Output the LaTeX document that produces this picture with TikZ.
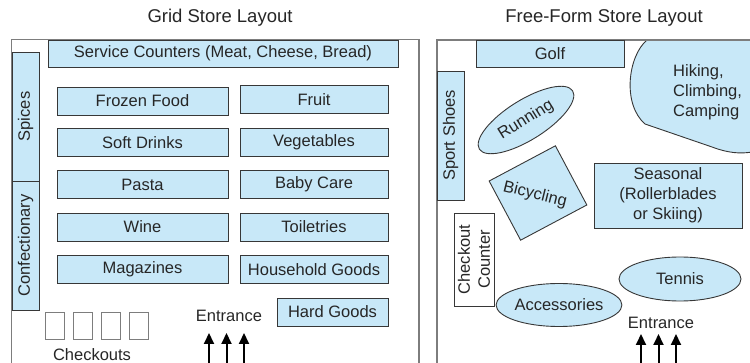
\documentclass[tikz,border=0pt]{standalone}
\usepackage{fontspec}
\setmainfont{Liberation Sans}
\usetikzlibrary{shapes.geometric,arrows.meta}
\definecolor{aisle}{RGB}{200,232,248}
\definecolor{edgec}{RGB}{55,55,55}
\definecolor{wallc}{RGB}{125,125,125}
\begin{document}
\begin{tikzpicture}[x=1pt,y=-1pt,
  font=\fontsize{16.5}{20}\selectfont,
  dept/.style={draw=edgec, fill=aisle, line width=0.9pt, inner sep=0pt, text=black!85},
  vdept/.style={dept, rotate=90},
  plain/.style={draw=edgec, fill=white, line width=0.9pt, inner sep=0pt},
  oval/.style={dept, ellipse},
  wallline/.style={draw=wallc, line width=1.5pt},
  label/.style={inner sep=0pt, text=black!85},
  title/.style={label, font=\fontsize{18.5}{22}\selectfont},
  arr/.style={line width=2pt, -{Triangle[width=10pt,length=11pt]}}]
\useasboundingbox (0,0) rectangle (750,363);

% ---------- Grid store ----------
\node[title] (gtitle) at (220,18) {Grid Store Layout};
\draw[wallline] (11.5,363) -- (11.5,39.5) -- (419,39.5) -- (419,363);

\node[dept, minimum width=350, minimum height=27] (service) at (223,53.5) {Service Counters (Meat, Cheese, Bread)};
\node[vdept, minimum width=129, minimum height=27] (spices) at (25.5,116.5) {Spices};
\node[vdept, minimum width=129, minimum height=27] (confect) at (25.5,245.5) {Confectionary};

\node[dept, minimum width=171, minimum height=28] (frozen) at (142.5,101) {Frozen Food};
\node[dept, minimum width=171, minimum height=27.5] (soft) at (142.5,142.5) {Soft Drinks};
\node[dept, minimum width=171, minimum height=27.5] (pasta) at (142.5,184.5) {Pasta};
\node[dept, minimum width=171, minimum height=28] (wine) at (142.5,227) {Wine};
\node[dept, minimum width=171, minimum height=27.5] (mags) at (142.5,269.5) {Magazines};

\node[dept, minimum width=148, minimum height=27.5] (fruit) at (314,99.5) {Fruit};
\node[dept, minimum width=148, minimum height=27.5] (veg) at (314,142.5) {Vegetables};
\node[dept, minimum width=148, minimum height=27.5] (baby) at (314,184.5) {Baby Care};
\node[dept, minimum width=148, minimum height=28] (toil) at (314,227) {Toiletries};
\node[dept, minimum width=148, minimum height=27.5] (house) at (314,269.5) {Household Goods};
\node[dept, minimum width=111, minimum height=28] (hard) at (332.5,312) {Hard Goods};

\foreach \i/\x in {1/54.5,2/82.5,3/110.5,4/138.5}
  \node[plain, draw=wallc, minimum width=19, minimum height=27] (co\i) at (\x,325.5) {};
\node[label] (checkouts) at (92,355) {Checkouts};

\node[label] (gentr) at (229,316) {Entrance};
\foreach \i/\x in {1/209,2/226.5,3/244}{
  \coordinate (gs\i) at (\x,364);
  \coordinate (ge\i) at (\x,333);
  \draw[arr] (gs\i) -- (ge\i);
}

% ---------- Free-form store ----------
\node[title] (ftitle) at (604,18) {Free-Form Store Layout};

\path[fill=aisle] (647,40) .. controls (628,56) and (622,104) .. (645,124)
  -- (712,147) .. controls (728,153) and (740,154) .. (752,152) -- (752,40) -- cycle;
\draw[draw=edgec, line width=0.9pt] (647,40) .. controls (628,56) and (622,104) .. (645,124)
  -- (712,147) .. controls (728,153) and (740,154) .. (752,152);
\node[label, align=left, anchor=west] (hiking) at (673,92) {Hiking,\\Climbing,\\Camping};

\draw[wallline] (437,363) -- (437,40) -- (752,40);

\node[dept, minimum width=148, minimum height=27] (golf) at (550,53.5) {Golf};
\node[vdept, minimum width=129, minimum height=27] (shoes) at (450.5,135.5) {Sport Shoes};
\node[oval, minimum width=110, minimum height=40, rotate=32] (running) at (526,120) {Running};
\node[dept, minimum width=75, minimum height=67, rotate=28] (bike) at (538,193) {};
\node[label, rotate=-14] (biketext) at (535,195) {Bicycling};
\node[dept, minimum width=148, minimum height=65, align=center] (seasonal) at (668,195.5) {Seasonal\\(Rollerblades\\or Skiing)};
\node[plain, rotate=90, minimum width=93, minimum height=40, align=center, text=black!85] (counter) at (474,259.5) {Checkout\\Counter};
\node[oval, minimum width=122, minimum height=44] (tennis) at (680,279) {Tennis};
\node[oval, minimum width=107, minimum height=43] (access) at (559,305) {Accessories};

\node[label] (fentr) at (661,323) {Entrance};
\foreach \i/\x in {1/641,2/658.5,3/676}{
  \coordinate (fs\i) at (\x,364);
  \coordinate (fe\i) at (\x,334);
  \draw[arr] (fs\i) -- (fe\i);
}
\end{tikzpicture}
\end{document}
